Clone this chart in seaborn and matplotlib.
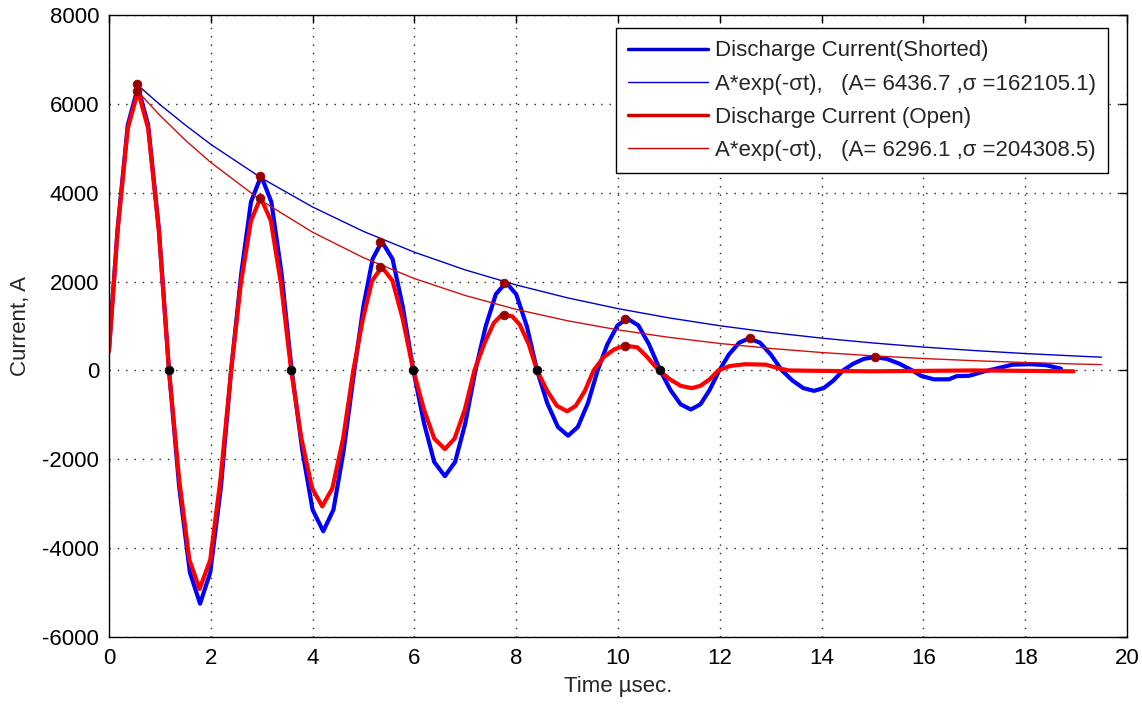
import numpy as np
import pandas as pd
import seaborn as sns
import matplotlib.pyplot as plt
from matplotlib.lines import Line2D

# shorted discharge current
t_short = [0.00, 0.17, 0.37, 0.57, 0.77, 0.98, 1.18,
           1.38, 1.59, 1.79, 1.99, 2.20, 2.40,
           2.60, 2.79, 2.99, 3.19, 3.39, 3.59,
           3.80, 4.00, 4.21, 4.41, 4.61, 4.82,
           5.00, 5.18, 5.36, 5.57, 5.77, 5.98,
           6.19, 6.39, 6.60, 6.80, 7.00, 7.20,
           7.40, 7.60, 7.80, 8.00, 8.21, 8.41,
           8.61, 8.82, 9.02, 9.21, 9.41, 9.60,
           9.79, 9.99, 10.18, 10.40, 10.61, 10.83,
           11.03, 11.23, 11.43, 11.62, 11.80, 11.99,
           12.18, 12.38, 12.57, 12.79, 13.00, 13.22,
           13.43, 13.64, 13.85, 14.04, 14.23, 14.42,
           14.62, 14.83, 15.03, 15.28, 15.53, 15.78,
           15.95, 16.20, 16.50, 16.65, 16.90, 17.20, 17.50, 17.75, 18.10, 18.40, 18.70]
i_short = [450, 3190, 5525, 6380, 5525, 3190, 0,
           -2625, -4547, -5250, -4547, -2625, 0,
           2190, 3793, 4380, 3793, 2190, 0,
           -1810, -3135, -3620, -3135, -1810, 0,
           1450, 2511, 2900, 2511, 1450, 0,
           -1190, -2061, -2380, -2061, -1190, 0,
           990, 1715, 1980, 1715, 990, 0,
           -735, -1273, -1470, -1273, -735, 0,
           585, 1013, 1170, 1013, 585, 0,
           -440, -762, -880, -762, -440, 0,
           360, 624, 720, 624, 360, 0,
           -230, -398, -460, -398, -230, 0,
           150, 260, 300, 260, 150, 0,
           -120, -200, -200, -130, -120, -20, 60, 130, 140, 120, 40]

# open discharge current
t_open = [0.00, 0.17, 0.37, 0.57, 0.77, 0.98, 1.18,
          1.38, 1.58, 1.78, 1.99, 2.19, 2.40,
          2.59, 2.79, 2.98, 3.18, 3.38, 3.58,
          3.78, 3.99, 4.19, 4.39, 4.60, 4.80,
          4.99, 5.17, 5.36, 5.57, 5.77, 5.98,
          6.19, 6.39, 6.60, 6.79, 6.99, 7.18,
          7.38, 7.56, 7.70, 7.80, 7.92, 8.07, 8.25, 8.41,
          8.61, 8.80, 9.00, 9.17, 9.35, 9.52,
          9.72, 9.92, 10.08, 10.22, 10.38, 10.55, 10.80,
          11.02, 11.23, 11.45, 11.62, 11.80, 11.97,
          12.20, 12.50, 12.90, 13.15, 13.35, 14.00, 15.00, 16.00, 17.00, 18.00, 18.95]
i_open = [430, 3145, 5447, 6290, 5447, 3145, 0,
          -2460, -4261, -4920, -4261, -2460, 0,
          1945, 3369, 3890, 3369, 1945, 0,
          -1530, -2650, -3060, -2650, -1530, 0,
          1165, 2018, 2330, 2018, 1165, 0,
          -885, -1533, -1770, -1533, -885, 0,
          620, 1070, 1230, 1240, 1220, 1030, 580, 0,
          -460, -797, -920, -797, -460, 0,
          300, 470, 540, 545, 520, 330, 0,
          -200, -346, -400, -346, -200, 0,
          100, 140, 130, 50, 0, -10, -20, -10, 0, -10, -20]

# exponential envelopes
t_fit = [0.55, 1, 1.5, 2, 3, 4, 5, 6, 7, 8, 9, 10, 11, 12, 13, 14, 15, 16, 17, 18, 19, 19.5]
fit_short = [6437, 5985, 5524, 5089, 4327, 3679, 3129, 2661, 2262, 1924, 1636, 1391,
             1183, 1006, 855, 727, 619, 526, 447, 380, 324, 298]
fit_open = [6296, 5743, 5183, 4682, 3817, 3111, 2537, 2068, 1686, 1374, 1120, 913,
            745, 607, 495, 403, 329, 268, 219, 178, 145, 131]

# marked peaks and zero crossings
peak_t = [0.55, 2.97, 5.33, 7.77, 10.13, 12.60, 15.05, 0.55, 2.97, 5.33, 7.77, 10.13]
peak_i = [6440, 4370, 2890, 1960, 1150, 720, 300, 6300, 3880, 2330, 1240, 540]
zero_t = [1.18, 3.58, 5.98, 8.41, 10.83]
zero_i = [0, 0, 0, 0, 0]

lbl_short = "Discharge Current(Shorted)"
lbl_fit_s = "A*exp(-σt),   (A= 6436.7 ,σ =162105.1)"
lbl_open = "Discharge Current (Open)"
lbl_fit_o = "A*exp(-σt),   (A= 6296.1 ,σ =204308.5)"

sns.set_style("white")
plt.rcParams['font.family'] = ['Liberation Sans', 'DejaVu Sans']
plt.rcParams['axes.unicode_minus'] = False

fig = plt.figure(figsize=(11.42, 7.08), dpi=100)
ax = fig.add_axes([0.0954, 0.1003, 0.8915, 0.8785])

sns.lineplot(x=t_short, y=i_short, sort=False, estimator=None, color="#0000ff", lw=3, ax=ax)
sns.lineplot(x=t_fit, y=fit_short, sort=False, estimator=None, color="#0000cc", lw=1, ax=ax)
sns.lineplot(x=t_open, y=i_open, sort=False, estimator=None, color="#ff0000", lw=3, ax=ax)
sns.lineplot(x=t_fit, y=fit_open, sort=False, estimator=None, color="#d01010", lw=1, ax=ax)
sns.scatterplot(x=peak_t, y=peak_i, color="#990000", s=40, edgecolor="#990000", zorder=5, ax=ax)
sns.scatterplot(x=zero_t, y=zero_i, color="black", s=40, edgecolor="black", zorder=5, ax=ax)

ax.set_xlim(0, 20)
ax.set_ylim(-6000, 8000)
ax.set_xticks(range(0, 21, 2))
ax.set_yticks(range(-6000, 8001, 2000))
ax.grid(True, color="#222222", linestyle=(0, (1, 5)), lw=1)
ax.tick_params(direction="in", length=6, top=True, right=True, labelsize=16,
               colors="black", width=1)
ax.tick_params(axis="x", pad=8)
ax.tick_params(axis="y", pad=7)
for s in ax.spines.values():
    s.set_color("black")
    s.set_linewidth(1)

ax.set_xlabel("Time µsec.", fontsize=16, labelpad=5)
ax.set_ylabel("Current, A", fontsize=16, labelpad=8)

handles = [Line2D([], [], color="#0000cc", lw=2.5),
           Line2D([], [], color="#0000cc", lw=1),
           Line2D([], [], color="#cc0000", lw=2.5),
           Line2D([], [], color="#cc0000", lw=1)]
leg = ax.legend(handles, [lbl_short, lbl_fit_s, lbl_open, lbl_fit_o],
                loc="upper right", bbox_to_anchor=(0.9813, 0.979), fontsize=16,
                frameon=True, fancybox=False, framealpha=1, edgecolor="black",
                handlelength=3.6, handletextpad=0.3, labelspacing=0.55,
                borderpad=0.55, borderaxespad=0)
leg.get_frame().set_linewidth(1)

fig.savefig("out.png", dpi=100)
